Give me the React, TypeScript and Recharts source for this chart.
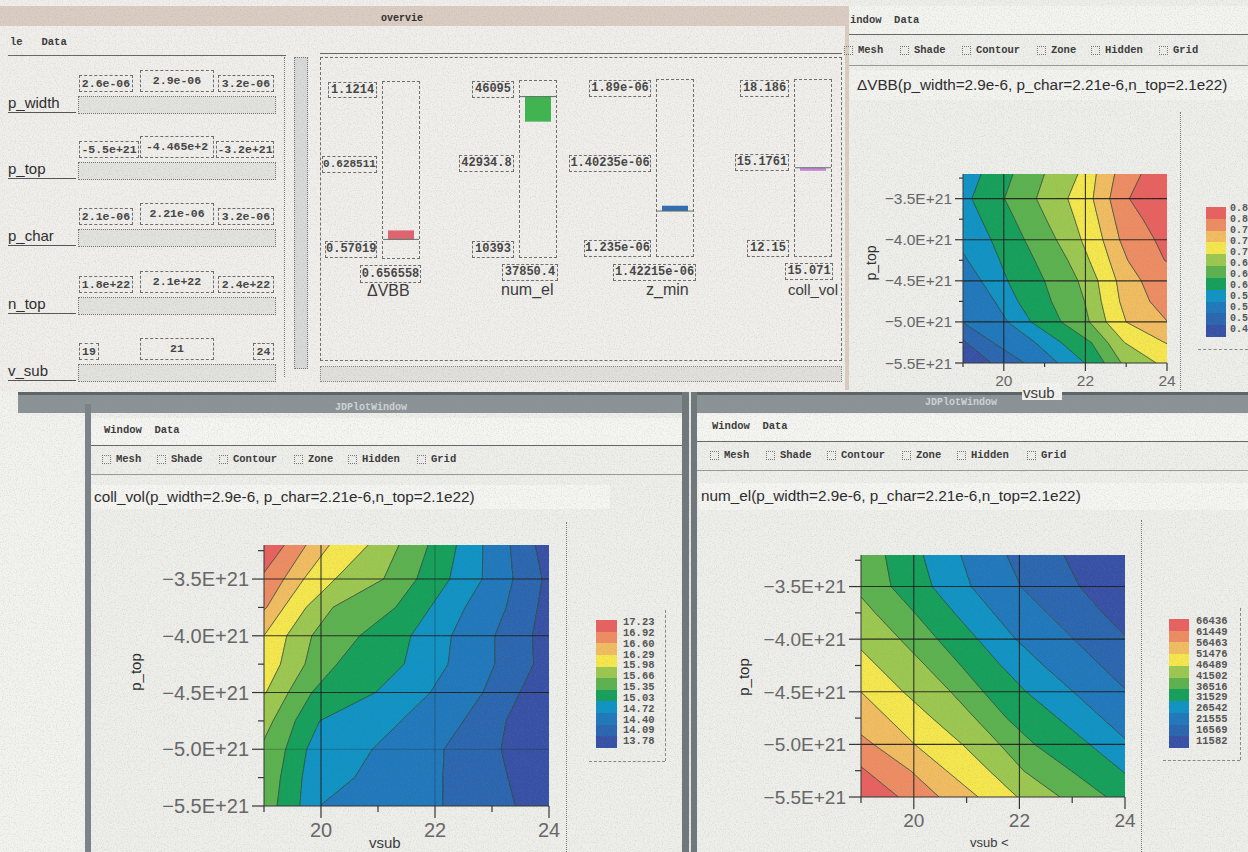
import React from 'react';
import { AreaChart, Area, BarChart, Bar, XAxis, YAxis, ReferenceLine } from 'recharts';

// band colours, low to high value
const BAND_COLORS = ['#3650a6', '#2a66b0', '#1f78bc', '#0f93c4', '#14a05a', '#5bb24e', '#9cc84f', '#f6e84c', '#f2bd60', '#ee8c62', '#e8615f'];

const pTopLevels = [-3.2e21, -3.5e21, -3.75e21, -4e21, -4.25e21, -4.5e21, -4.75e21, -5e21, -5.25e21, -5.5e21];
const yTicks = [-3.25e21, -3.5e21, -3.75e21, -4e21, -4.25e21, -4.5e21, -4.75e21, -5e21, -5.25e21, -5.5e21];
const yMajor = [-3.5e21, -4e21, -4.5e21, -5e21, -5.5e21];
const xTicks = [19, 20, 21, 22, 23, 24];

// contour position (vsub) at each p_top level, left to right across the plot
const vbbContours = [
  [18.5, 18.5, 18.5, 18.5, 18.5, 18.5, 18.5, 18.5, 19.08, 19.7],
  [18.5, 18.5, 18.5, 18.5, 18.5, 18.5, 18.5, 18.98, 19.74, 20.51],
  [18.5, 18.5, 18.5, 18.8, 19.12, 19.45, 19.78, 20.1, 20.77, 21.33],
  [19.45, 19.22, 19.45, 19.69, 19.9, 20.1, 20.35, 20.67, 21.41, 21.98],
  [20.23, 20.02, 20.27, 20.51, 20.76, 21.0, 21.17, 21.41, 22.15, 22.47],
  [21.0, 20.8, 21.04, 21.29, 21.57, 21.82, 21.98, 22.1, 22.55, 22.88],
  [21.82, 21.57, 21.74, 21.9, 22.1, 22.31, 22.39, 22.51, 22.96, 23.74],
  [22.27, 22.19, 22.31, 22.43, 22.59, 22.76, 22.84, 23.0, 23.94, 25],
  [22.72, 22.6, 22.72, 22.84, 23.04, 23.37, 23.58, 24.02, 25, 25],
  [23.37, 23.08, 23.41, 23.7, 23.94, 25, 25, 25, 25, 25],
];
const collContours = [
  [19.36, 18.92, 18.5, 18.5, 18.5, 18.5, 18.5, 18.5, 18.5, 18.5],
  [19.74, 19.35, 19.05, 18.5, 18.5, 18.5, 18.5, 18.5, 18.5, 18.5],
  [20.15, 19.7, 19.35, 19.0, 18.5, 18.5, 18.5, 18.5, 18.5, 18.5],
  [20.83, 20.25, 19.74, 19.4, 19.29, 19.04, 18.5, 18.5, 18.5, 18.5],
  [21.37, 21.1, 20.21, 19.84, 19.72, 19.43, 19.16, 18.92, 18.5, 18.5],
  [21.88, 21.68, 21.31, 20.68, 20.28, 19.84, 19.55, 19.38, 19.29, 19.23],
  [22.38, 22.26, 21.92, 21.58, 21.46, 20.96, 19.98, 19.75, 19.67, 19.63],
  [22.84, 22.83, 22.53, 22.29, 22.23, 21.92, 21.41, 20.9, 20.59, 19.98],
  [23.32, 23.37, 23.25, 23.05, 23.05, 22.84, 22.5, 22.16, 22.14, 22.14],
  [23.76, 23.88, 23.8, 23.71, 23.73, 23.49, 23.25, 23.16, 23.28, 23.41],
];
const numContours = [
  [18.4, 18.4, 18.4, 18.4, 18.4, 18.4, 18.4, 18.46, 19.1, 19.71],
  [18.4, 18.4, 18.4, 18.4, 18.4, 18.4, 18.6, 19.24, 19.94, 20.48],
  [18.4, 18.4, 18.4, 18.4, 18.6, 19.0, 19.51, 20.02, 20.62, 21.22],
  [18.4, 18.4, 18.46, 18.8, 19.3, 19.8, 20.35, 20.92, 21.43, 21.96],
  [18.33, 18.83, 19.27, 19.74, 20.22, 20.7, 21.16, 21.63, 22.08, 22.77],
  [19.46, 19.57, 20.02, 20.45, 20.89, 21.32, 21.76, 22.29, 22.98, 23.65],
  [20.18, 20.35, 20.77, 21.21, 21.65, 22.13, 22.73, 23.33, 23.94, 24.53],
  [20.89, 21.09, 21.51, 21.93, 22.46, 23.02, 23.57, 24.12, 24.66, 25.2],
  [21.76, 22.03, 22.53, 23.03, 23.54, 24.06, 24.53, 25.2, 25.2, 25.2],
  [22.84, 23.14, 23.58, 24.07, 24.5, 25.2, 25.2, 25.2, 25.2, 25.2],
];

const vbbLegend = ['0.8', '0.8', '0.7', '0.7', '0.7', '0.6', '0.6', '0.6', '0.5', '0.5', '0.5', '0.4'];
const collLegend = ['17.23', '16.92', '16.60', '16.29', '15.98', '15.66', '15.35', '15.03', '14.72', '14.40', '14.09', '13.78'];
const numLegend = ['66436', '61449', '56463', '51476', '46489', '41502', '36516', '31529', '26542', '21555', '16569', '11582'];

// overview gauges
const gaugeNames = ['ΔVBB', 'num_el', 'z_min', 'coll_vol'];
const gaugeMin = [0.57019, 10393, 1.235e-6, 12.15];
const gaugeMax = [1.1214, 46095, 1.89e-6, 18.186];
const gaugeMid = [0.628511, 42934.8, 1.40235e-6, 15.1761];
const gaugeValue = [0.656558, 37850.4, 1.42215e-6, 15.071];
const gaugeColors = ['#e2636f', '#3fb54f', '#2f6cb4', '#c985d8'];

const MONO = '"Liberation Mono", "DejaVu Sans Mono", monospace';
const SANS = '"Liberation Sans", Arial, sans-serif';
const DASH = '1px dashed #6d6d6d';

const Txt = ({ x, y, s, size = 11, bold = true, font = MONO, color = '#3a3a3a', w }: any) => (
  <div style={{ position: 'absolute', left: x, top: y, fontFamily: font, fontSize: size, fontWeight: bold ? 700 : 400, color, whiteSpace: 'pre', width: w, lineHeight: 1 }}>{s}</div>
);

const Box = ({ x, y, w, h, s, size = 12 }: any) => (
  <div style={{ position: 'absolute', left: x, top: y, width: w, height: h, border: DASH, fontFamily: MONO, fontWeight: 700, fontSize: size, color: '#444', lineHeight: `${h}px`, textAlign: 'center', whiteSpace: 'pre', overflow: 'hidden' }}>{s}</div>
);

const Block = ({ x, y, w, h, bg, border, style }: any) => (
  <div style={{ position: 'absolute', left: x, top: y, width: w, height: h, background: bg, ...(border ? { border } : {}), ...style }} />
);

const toolbarNames = ['Mesh', 'Shade', 'Contour', 'Zone', 'Hidden', 'Grid'];
const Toolbar = ({ xs, y }: any) => (
  <>
    {toolbarNames.map((name, i) => (
      <React.Fragment key={name}>
        <Block x={xs[i] - 14} y={y + 1} w={7} h={7} border="1px dotted #777" />
        <Txt x={xs[i]} y={y} s={name} size={10.5} />
      </React.Fragment>
    ))}
  </>
);

const ContourPlot = ({ contours, colors, left, top, w, h, fontSize, tickLen, faintX = [], faintY = [] }: any) => {
  const yAxisW = 120;
  const rows = pTopLevels.map((y, i) => {
    const row: any = { y };
    colors.forEach((_: string, b: number) => {
      const lo = b === 0 ? 18 : contours[b - 1][i];
      const hi = b === colors.length - 1 ? 25.5 : contours[b][i];
      row[`b${b}`] = [lo, hi];
    });
    return row;
  });

  const YTick = ({ x, y, payload }: any) => {
    const major = yMajor.includes(payload.value);
    return (
      <g>
        <line x1={x - (major ? tickLen : tickLen / 2)} x2={x} y1={y} y2={y} stroke="#333" strokeWidth={1.2} />
        {major && (
          <text x={x - tickLen - 3} y={y + fontSize * 0.36} textAnchor="end" fontSize={fontSize} fontFamily={SANS} fill="#666">
            {`−${(Math.abs(payload.value) / 1e21).toFixed(1)}E+21`}
          </text>
        )}
      </g>
    );
  };
  const XTick = ({ x, y, payload }: any) => {
    const major = payload.value % 2 === 0;
    return (
      <g>
        <line x1={x} x2={x} y1={y} y2={y + (major ? tickLen : tickLen / 2)} stroke="#333" strokeWidth={1.2} />
        {major && (
          <text x={x} y={y + tickLen + fontSize * 0.95} textAnchor="middle" fontSize={fontSize} fontFamily={SANS} fill="#666">
            {payload.value}
          </text>
        )}
      </g>
    );
  };

  return (
    <div style={{ position: 'absolute', left: left - yAxisW, top: top - 6 }}>
      <AreaChart
        width={w + yAxisW + 16}
        height={h + 6 + 60}
        data={rows}
        layout="vertical"
        margin={{ top: 6, right: 16, left: 0, bottom: 0 }}
      >
        <XAxis
          type="number"
          domain={[19, 24]}
          allowDataOverflow
          ticks={xTicks}
          interval={0}
          tick={XTick}
          tickSize={0}
          tickMargin={0}
          height={60}
          axisLine={{ stroke: '#333' }}
          tickLine={false}
        />
        <YAxis
          type="number"
          dataKey="y"
          domain={[-5.5e21, -3.2e21]}
          allowDataOverflow
          reversed
          ticks={yTicks}
          interval={0}
          tick={YTick}
          tickSize={0}
          tickMargin={0}
          width={yAxisW}
          axisLine={{ stroke: '#333' }}
          tickLine={false}
        />
        {colors.map((c: string, b: number) => (
          <Area
            key={b}
            type="linear"
            dataKey={`b${b}`}
            fill={c}
            fillOpacity={1}
            stroke="#24402f"
            strokeWidth={0.7}
            strokeOpacity={0.85}
            dot={false}
            activeDot={false}
            isAnimationActive={false}
          />
        ))}
        {[20, 22].map((v) => (
          <ReferenceLine key={v} x={v} stroke="#1d1d1d" strokeWidth={1.1} strokeOpacity={faintX.includes(v) ? 0.3 : 0.9} />
        ))}
        {yMajor.slice(0, 4).map((v) => (
          <ReferenceLine key={v} y={v} stroke="#1d1d1d" strokeWidth={1.1} strokeOpacity={faintY.includes(v) ? 0.3 : 0.9} />
        ))}
      </AreaChart>
    </div>
  );
};

const Legend = ({ labels, colors, x, y, h, w, labelX, size = 10.5 }: any) => {
  const bandH = h / colors.length;
  const gap = (h + 2) / labels.length;
  return (
    <>
      {colors.map((c: string, i: number) => (
        <Block key={i} x={x} y={y + i * bandH} w={w} h={bandH + 0.5} bg={c} />
      ))}
      {labels.map((s: string, i: number) => (
        <Txt key={i} x={labelX} y={y - 3 + i * gap} s={s} size={size} color="#555" />
      ))}
    </>
  );
};

const Gauge = ({ i, x, y, h }: any) => {
  const data = [{ name: gaugeNames[i], range: [gaugeMid[i], gaugeValue[i]] }];
  return (
    <div style={{ position: 'absolute', left: x, top: y, width: 38, height: h, border: DASH, boxSizing: 'border-box' }}>
      <BarChart width={36} height={h - 2} data={data} margin={{ top: 0, right: 0, bottom: 0, left: 0 }} barSize={26}>
        <XAxis dataKey="name" hide />
        <YAxis hide domain={[gaugeMin[i], gaugeMax[i]]} allowDataOverflow />
        <ReferenceLine y={gaugeMid[i]} stroke="#59706a" strokeWidth={1} />
        <Bar dataKey="range" fill={gaugeColors[i]} isAnimationActive={false} />
      </BarChart>
    </div>
  );
};

const sliderRows = [
  { name: 'p_width', lo: '2.6e-06', val: '2.9e-06', hi: '3.2e-06', y: 70 },
  { name: 'p_top', lo: '-5.5e+21', val: '-4.465e+2', hi: '-3.2e+21', y: 136 },
  { name: 'p_char', lo: '2.1e-06', val: '2.21e-06', hi: '3.2e-06', y: 203 },
  { name: 'n_top', lo: '1.8e+22', val: '2.1e+22', hi: '2.4e+22', y: 271 },
  { name: 'v_sub', lo: '19', val: '21', hi: '24', y: 338 },
];

const Overview = () => (
  <>
    <Block x={0} y={0} w={850} h={392} bg="#f0efeb" />
    <Block x={0} y={6} w={850} h={20} bg="#dccdc2" />
    <Txt x={381} y={14} s="overvie" size={10} color="#2c2c2c" />
    <Txt x={10} y={37} s="le   Data" size={10.5} />
    <Block x={8} y={55} w={278} h={1} bg="#666" />
    <Block x={320} y={53} w={522} h={1} bg="#666" />
    <Block x={845} y={6} w={4} h={384} bg="#dccdc2" />
    {sliderRows.map((r) => {
      const shortLo = r.name === 'v_sub';
      return (
        <React.Fragment key={r.name}>
          <Box x={79} y={r.y + 5} w={shortLo ? 18 : r.name === 'p_top' ? 58 : 52} h={15} s={r.lo} size={11.5} />
          <Box x={140} y={r.y} w={72} h={20} s={r.val} size={11.5} />
          <Box x={shortLo ? 253 : r.name === 'p_top' ? 216 : 218} y={r.y + 5} w={shortLo ? 19 : r.name === 'p_top' ? 56 : 54} h={15} s={r.hi} size={11.5} />
          <Block x={78} y={r.y + 26} w={196} h={16} bg="#e2e2de" border="1px dotted #777" />
          <Txt x={8} y={r.y + 25} s={r.name} size={15} bold={false} font={SANS} color="#2b2b2b" />
          <Block x={8} y={r.y + 42} w={68} h={1} bg="#555" />
        </React.Fragment>
      );
    })}
    <Block x={294} y={57} w={12} h={310} bg="#d8dada" border="1px dotted #777" />
    <Block x={284} y={57} w={1} h={320} style={{ borderLeft: '1px dotted #777' }} />
    <Block x={320} y={57} w={520} h={302} border={DASH} />
    <Block x={320} y={366} w={520} h={14} bg="#e2e0dc" border="1px dotted #888" />

    <Gauge i={0} x={382} y={81} h={178} />
    <Box x={328} y={82} w={47} h={14} s="1.1214" />
    <Box x={322} y={156} w={53} h={15} s="0.628511" size={11} />
    <Box x={325} y={241} w={50} h={15} s="0.57019" />
    <Box x={360} y={265} w={59} h={16} s="0.656558" />
    <Txt x={367} y={283} s="ΔVBB" size={16} bold={false} font={SANS} />

    <Gauge i={1} x={519} y={80} h={178} />
    <Box x={472} y={81} w={40} h={15} s="46095" />
    <Box x={459} y={155} w={53} h={15} s="42934.8" />
    <Box x={472} y={241} w={40} h={15} s="10393" />
    <Box x={502} y={264} w={54} h={15} s="37850.4" />
    <Txt x={501} y={282} s="num_el" size={16} bold={false} font={SANS} />

    <Gauge i={2} x={656} y={79} h={178} />
    <Box x={589} y={80} w={60} h={15} s="1.89e-06" />
    <Box x={569} y={155} w={80} h={15} s="1.40235e-06" />
    <Box x={584} y={240} w={65} h={15} s="1.235e-06" />
    <Box x={613} y={264} w={81} h={15} s="1.42215e-06" />
    <Txt x={646} y={282} s="z_min" size={16} bold={false} font={SANS} />

    <Gauge i={3} x={794} y={79} h={178} />
    <Box x={740} y={80} w={47} h={15} s="18.186" />
    <Box x={735} y={154} w={52} h={15} s="15.1761" />
    <Box x={747} y={240} w={40} h={15} s="12.15" />
    <Box x={785} y={263} w={46} h={15} s="15.071" />
    <Txt x={788} y={282} s="coll_vol" size={15} bold={false} font={SANS} />
  </>
);

const App = () => (
  <div style={{ position: 'absolute', left: 0, top: 0, width: 1248, height: 852, overflow: 'hidden', background: '#f2f2ef' }}>
    <Overview />

    {/* top right plot window */}
    <Block x={849} y={0} w={399} h={392} bg="#eeeeea" />
    <Block x={849} y={6} w={399} h={28} bg="#f4f4f1" />
    <Block x={849} y={34} w={399} h={1} bg="#666" />
    <Txt x={850} y={15} s="indow  Data" size={10.5} />
    <Toolbar xs={[858, 914, 976, 1051, 1105, 1173]} y={45} />
    <Block x={849} y={65} w={399} h={1} bg="#999" />
    <Block x={850} y={70} w={398} h={30} bg="#f3f3f0" />
    <Txt x={857} y={77} s="ΔVBB(p_width=2.9e-6, p_char=2.21e-6,n_top=2.1e22)" size={15.3} bold={false} font={SANS} color="#2a2a2a" />
    <Block x={1180} y={112} w={0} h={278} style={{ borderLeft: '1px dotted #777' }} />
    <Block x={1198} y={349} w={50} h={0} style={{ borderTop: '1px dashed #888' }} />
    <ContourPlot contours={vbbContours} colors={BAND_COLORS} left={963} top={174} w={204} h={189} fontSize={15.5} tickLen={8} />
    <Legend labels={vbbLegend} colors={[...BAND_COLORS].reverse()} x={1206} y={207} w={20} h={130} labelX={1230} size={10} />
    <div style={{ position: 'absolute', left: 871, top: 263, transform: 'translate(-50%,-50%) rotate(-90deg)', fontFamily: SANS, fontSize: 14, color: '#2a2a2a' }}>p_top</div>

    {/* dark bars between the windows */}
    <Block x={18} y={392} w={1230} h={21} bg="#8b9396" />
    <Block x={18} y={392} w={1230} h={3} bg="#5d6467" />
    <Block x={85} y={404} w={6} h={448} bg="#7c8386" />
    <Block x={682} y={392} w={15} h={460} bg="#6f777a" />
    <Block x={689} y={392} w={2} h={460} bg="#e5e5e5" />
    <Txt x={335} y={403} s="JDPlotWindow" size={10} color="#d0d4d6" />
    <Txt x={925} y={398} s="JDPlotWindow" size={10} color="#d0d4d6" />
    <Block x={1022} y={383} w={40} h={17} bg="#f3f3f0" />
    <Txt x={1023} y={385} s="vsub" size={15} bold={false} font={SANS} />

    {/* lower left plot window */}
    <Block x={91} y={413} w={591} h={439} bg="#eeeeea" />
    <Block x={91} y={418} w={591} h={28} bg="#f5f5f2" />
    <Block x={91} y={445} w={591} h={1} bg="#666" />
    <Txt x={104} y={425} s="Window  Data" size={10.5} />
    <Toolbar xs={[116, 171, 233, 308, 362, 431]} y={454} />
    <Block x={91} y={474} w={591} h={1} bg="#999" />
    <Block x={92} y={485} w={518} h={24} bg="#f5f5f2" />
    <Txt x={94} y={489} s="coll_vol(p_width=2.9e-6, p_char=2.21e-6,n_top=2.1e22)" size={15.3} bold={false} font={SANS} color="#2a2a2a" />
    <Block x={566} y={522} w={0} h={330} style={{ borderLeft: '1px dotted #777' }} />
    <Block x={589} y={761} w={76} h={0} style={{ borderTop: '1px dashed #888' }} />
    <Block x={665} y={610} w={0} h={151} style={{ borderLeft: '1px dashed #888' }} />
    <ContourPlot contours={collContours} colors={[...BAND_COLORS].reverse()} left={264} top={545} w={285} h={261} fontSize={20} tickLen={12} faintX={[22]} faintY={[-5e21]} />
    <Legend labels={collLegend} colors={[...BAND_COLORS].reverse()} x={596} y={620} w={21} h={128} labelX={623} />
    <div style={{ position: 'absolute', left: 135, top: 672, transform: 'translate(-50%,-50%) rotate(-90deg)', fontFamily: SANS, fontSize: 15, color: '#2a2a2a' }}>p_top</div>
    <Txt x={369} y={835} s="vsub" size={15} bold={false} font={SANS} />

    {/* lower right plot window */}
    <Block x={697} y={413} w={551} h={439} bg="#eeeeea" />
    <Block x={697} y={414} w={551} h={27} bg="#f5f5f2" />
    <Block x={697} y={441} w={551} h={1} bg="#666" />
    <Txt x={712} y={421} s="Window  Data" size={10.5} />
    <Toolbar xs={[724, 780, 841, 916, 971, 1041]} y={450} />
    <Block x={697} y={470} w={551} h={1} bg="#999" />
    <Block x={699} y={483} w={549} h={27} bg="#f5f5f2" />
    <Txt x={701} y={488} s="num_el(p_width=2.9e-6, p_char=2.21e-6,n_top=2.1e22)" size={15.3} bold={false} font={SANS} color="#2a2a2a" />
    <Block x={1141} y={520} w={0} h={332} style={{ borderLeft: '1px dotted #777' }} />
    <Block x={1163} y={760} w={77} h={0} style={{ borderTop: '1px dashed #888' }} />
    <Block x={1240} y={608} w={0} h={152} style={{ borderLeft: '1px dashed #888' }} />
    <ContourPlot contours={numContours} colors={[...BAND_COLORS].reverse()} left={861} top={555} w={264} h={242} fontSize={19} tickLen={12} />
    <Legend labels={numLegend} colors={[...BAND_COLORS].reverse()} x={1169} y={619} w={20} h={129} labelX={1196} />
    <div style={{ position: 'absolute', left: 743, top: 677, transform: 'translate(-50%,-50%) rotate(-90deg)', fontFamily: SANS, fontSize: 15, color: '#2a2a2a' }}>p_top</div>
    <Txt x={970} y={836} s="vsub <" size={13} bold={false} font={SANS} />

    {/* scanner grain over the whole page */}
    <svg width={1248} height={852} style={{ position: 'absolute', left: 0, top: 0, pointerEvents: 'none' }}>
      <filter id="grain">
        <feTurbulence type="fractalNoise" baseFrequency="0.85" numOctaves={2} seed={4} />
        <feColorMatrix type="matrix" values="0 0 0 0 0.25  0 0 0 0 0.25  0 0 0 0 0.25  1.6 0 0 0 -0.72" />
      </filter>
      <rect width={1248} height={852} filter="url(#grain)" opacity={0.3} />
    </svg>
  </div>
);

export default App;
